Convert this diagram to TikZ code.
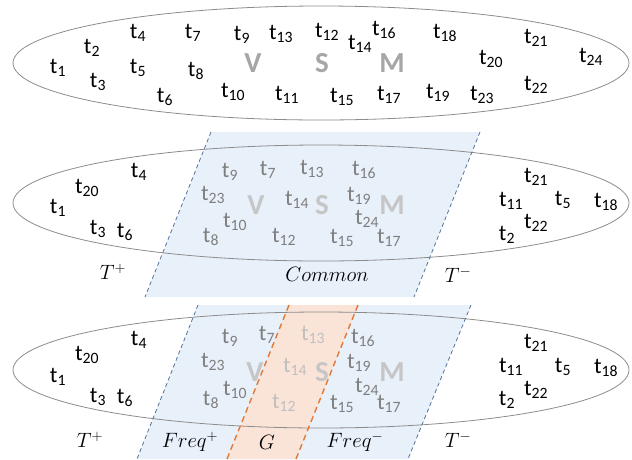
\documentclass[tikz,border=0pt]{standalone}
\usepackage{fontspec}
\newfontfamily\calfont{Carlito}
\definecolor{setLine}{HTML}{8C8C8C}
\definecolor{comFill}{HTML}{E8F0FA}
\definecolor{comLine}{HTML}{52729A}
\definecolor{gFill}{HTML}{FAE4D7}
\definecolor{gLine}{HTML}{E07A3C}
\definecolor{inGray}{HTML}{7F7F7F}
\definecolor{faintGray}{HTML}{BFBFBF}
\definecolor{vsmGray}{HTML}{A6A6A6}
\definecolor{vsmLight}{HTML}{C6C6C6}
\newcommand{\tsub}[1]{t\textsubscript{#1}}

\begin{document}
\begin{tikzpicture}[
    x=1pt, y=-1pt,
    tk/.style={font=\calfont\fontsize{22.5}{24}\selectfont, inner sep=0pt, text=#1},
    tk/.default=black,
    vsm/.style={font=\calfont\bfseries\fontsize{29}{30}\selectfont, inner sep=0pt, text=#1},
    lbl/.style={font=\fontsize{21}{22}\selectfont, inner sep=0pt},
    setline/.style={draw=setLine, line width=0.8pt},
    bline/.style={draw=comLine, dash pattern=on 4pt off 3pt, line width=0.8pt},
    gline/.style={draw=gLine, dash pattern=on 6pt off 4pt, line width=1.4pt},
  ]
    \useasboundingbox (0,0) rectangle (632,459);

    % Bands behind the sets
    \coordinate (c1) at (211,132); \coordinate (c2) at (480,132);
    \coordinate (c3) at (414,297); \coordinate (c4) at (145,297);
    \fill[comFill] (c1) -- (c2) -- (c3) -- (c4) -- cycle;
    \coordinate (f1) at (198,305); \coordinate (f2) at (471,305);
    \coordinate (f3) at (408,459); \coordinate (f4) at (137,459);
    \fill[comFill] (f1) -- (f2) -- (f3) -- (f4) -- cycle;
    \coordinate (g1) at (289,305); \coordinate (g2) at (358,305);
    \coordinate (g3) at (296,459); \coordinate (g4) at (227,459);
    \fill[gFill] (g1) -- (g2) -- (g3) -- (g4) -- cycle;

    % The three sets
    \draw[setline] (321,63) ellipse [x radius=308pt, y radius=57pt];
    \draw[setline] (321,203) ellipse [x radius=308pt, y radius=58pt];
    \draw[setline] (321,370) ellipse [x radius=308pt, y radius=58pt];

    % Band borders
    \draw[bline] (c1) -- (c4);
    \draw[bline] (c2) -- (c3);
    \draw[bline] (f1) -- (f4);
    \draw[bline] (f2) -- (f3);
    \draw[gline] (g1) -- (g4);
    \draw[gline] (g2) -- (g3);

    % Top: all terms
    \node[vsm=vsmGray] (uV) at (253,63) {V};
    \node[vsm=vsmGray] (uS) at (322,63) {S};
    \node[vsm=vsmGray] (uM) at (392,63) {M};
    \node[tk] (u1) at (58,68) {\tsub{1}};
    \node[tk] (u2) at (92,48) {\tsub{2}};
    \node[tk] (u3) at (98,82) {\tsub{3}};
    \node[tk] (u4) at (138,33) {\tsub{4}};
    \node[tk] (u5) at (138,68) {\tsub{5}};
    \node[tk] (u6) at (165,97) {\tsub{6}};
    \node[tk] (u7) at (193,33) {\tsub{7}};
    \node[tk] (u8) at (196,71) {\tsub{8}};
    \node[tk] (u9) at (242,35) {\tsub{9}};
    \node[tk] (u10) at (233,92) {\tsub{10}};
    \node[tk] (u11) at (287,95) {\tsub{11}};
    \node[tk] (u12) at (327,32) {\tsub{12}};
    \node[tk] (u13) at (281,34) {\tsub{13}};
    \node[tk] (u14) at (360,44) {\tsub{14}};
    \node[tk] (u15) at (342,97) {\tsub{15}};
    \node[tk] (u16) at (384,30) {\tsub{16}};
    \node[tk] (u17) at (389,95) {\tsub{17}};
    \node[tk] (u18) at (445,33) {\tsub{18}};
    \node[tk] (u19) at (438,93) {\tsub{19}};
    \node[tk] (u20) at (491,59) {\tsub{20}};
    \node[tk] (u21) at (536,38) {\tsub{21}};
    \node[tk] (u22) at (536,85) {\tsub{22}};
    \node[tk] (u23) at (482,95) {\tsub{23}};
    \node[tk] (u24) at (591,57) {\tsub{24}};

    % Middle: T+, Common, T-
    \node[vsm=vsmLight] (mV) at (256,205) {V};
    \node[vsm=vsmLight] (mS) at (322,205) {S};
    \node[vsm=vsmLight] (mM) at (392,205) {M};
    \node[tk] (m4) at (139,172) {\tsub{4}};
    \node[tk] (m20) at (87,188) {\tsub{20}};
    \node[tk] (m1) at (58,208) {\tsub{1}};
    \node[tk] (m3) at (98,229) {\tsub{3}};
    \node[tk] (m6) at (125,232) {\tsub{6}};
    \node[tk=inGray] (m9) at (230,172) {\tsub{9}};
    \node[tk=inGray] (m7) at (268,170) {\tsub{7}};
    \node[tk=inGray] (m13) at (312,169) {\tsub{13}};
    \node[tk=inGray] (m16) at (364,170) {\tsub{16}};
    \node[tk=inGray] (m23) at (213,195) {\tsub{23}};
    \node[tk=inGray] (m14) at (297,200) {\tsub{14}};
    \node[tk=inGray] (m19) at (359,196) {\tsub{19}};
    \node[tk=inGray] (m24) at (367,219) {\tsub{24}};
    \node[tk=inGray] (m10) at (235,222) {\tsub{10}};
    \node[tk=inGray] (m8) at (211,237) {\tsub{8}};
    \node[tk=inGray] (m12) at (284,237) {\tsub{12}};
    \node[tk=inGray] (m15) at (342,238) {\tsub{15}};
    \node[tk=inGray] (m17) at (389,238) {\tsub{17}};
    \node[tk] (m21) at (536,177) {\tsub{21}};
    \node[tk] (m11) at (511,201) {\tsub{11}};
    \node[tk] (m5) at (563,200) {\tsub{5}};
    \node[tk] (m18) at (606,202) {\tsub{18}};
    \node[tk] (m22) at (536,223) {\tsub{22}};
    \node[tk] (m2) at (507,235) {\tsub{2}};
    \node[lbl] (mTp) at (113,272) {$T^{+}$};
    \node[lbl] (mCom) at (327,274) {$Common$};
    \node[lbl] (mTm) at (458,275) {$T^{-}$};

    % Bottom: Freq+, G, Freq-
    \node[vsm=vsmLight] (lV) at (255,372) {V};
    \node[vsm=vsmLight] (lS) at (322,372) {S};
    \node[vsm=vsmLight] (lM) at (392,372) {M};
    \node[tk] (l4) at (139,340) {\tsub{4}};
    \node[tk] (l20) at (87,355) {\tsub{20}};
    \node[tk] (l1) at (58,377) {\tsub{1}};
    \node[tk] (l3) at (98,397) {\tsub{3}};
    \node[tk] (l6) at (125,398) {\tsub{6}};
    \node[tk=inGray] (l9) at (230,338) {\tsub{9}};
    \node[tk=inGray] (l7) at (267,335) {\tsub{7}};
    \node[tk=faintGray] (l13) at (313,335) {\tsub{13}};
    \node[tk=inGray] (l16) at (363,338) {\tsub{16}};
    \node[tk=inGray] (l23) at (213,362) {\tsub{23}};
    \node[tk=faintGray] (l14) at (295,367) {\tsub{14}};
    \node[tk=inGray] (l19) at (359,363) {\tsub{19}};
    \node[tk=inGray] (l24) at (367,387) {\tsub{24}};
    \node[tk=inGray] (l10) at (235,390) {\tsub{10}};
    \node[tk=inGray] (l8) at (211,400) {\tsub{8}};
    \node[tk=faintGray] (l12) at (284,403) {\tsub{12}};
    \node[tk=inGray] (l15) at (342,404) {\tsub{15}};
    \node[tk=inGray] (l17) at (389,404) {\tsub{17}};
    \node[tk] (l21) at (536,343) {\tsub{21}};
    \node[tk] (l11) at (511,367) {\tsub{11}};
    \node[tk] (l5) at (563,367) {\tsub{5}};
    \node[tk] (l18) at (606,368) {\tsub{18}};
    \node[tk] (l22) at (536,390) {\tsub{22}};
    \node[tk] (l2) at (507,400) {\tsub{2}};
    \node[lbl] (lTp) at (90,440) {$T^{+}$};
    \node[lbl] (lFp) at (190,442) {$Freq^{+}$};
    \node[lbl] (lG) at (267,442) {$G$};
    \node[lbl] (lFm) at (355,442) {$Freq^{-}$};
    \node[lbl] (lTm) at (458,440) {$T^{-}$};
  \end{tikzpicture}
\end{document}
